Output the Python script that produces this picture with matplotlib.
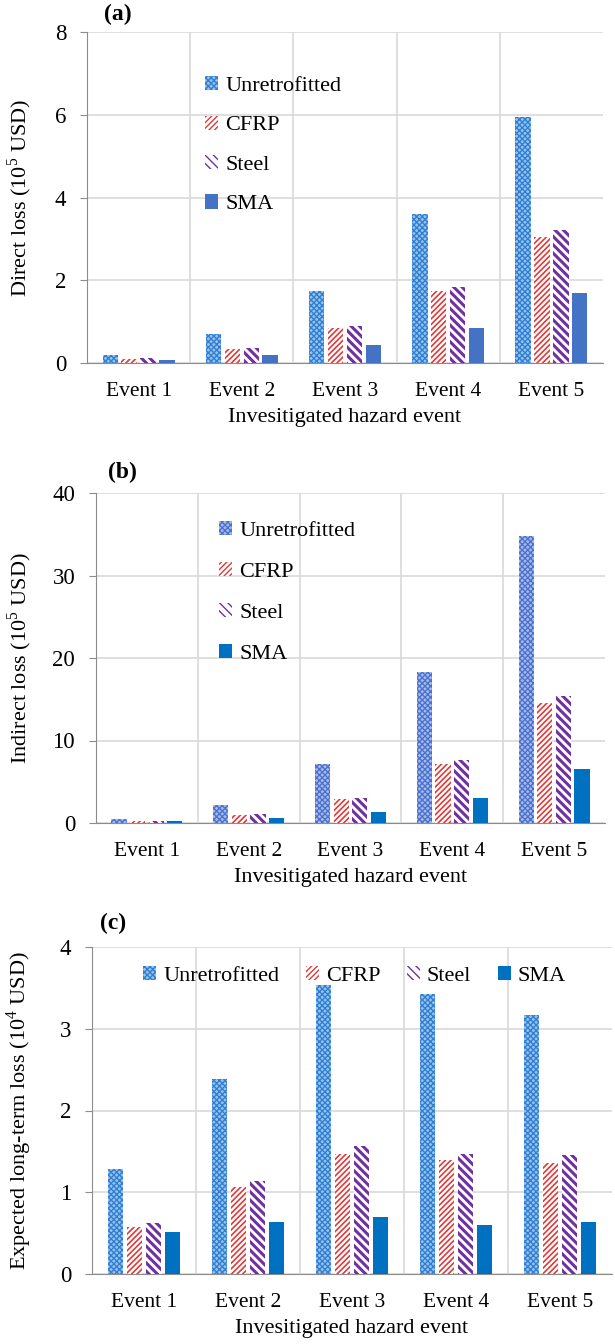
import matplotlib
matplotlib.use('Agg')
import matplotlib.pyplot as plt
import matplotlib.transforms as mtransforms
import numpy as np

plt.rcParams['font.family'] = ['Liberation Serif', 'DejaVu Serif']
plt.rcParams['mathtext.fontset'] = 'custom'
plt.rcParams['mathtext.rm'] = 'Liberation Serif'
plt.rcParams['font.size'] = 15.5

# data
events = ['Event 1', 'Event 2', 'Event 3', 'Event 4', 'Event 5']
schemes = ['Unretrofitted', 'CFRP', 'Steel', 'SMA']

direct_unretro = [0.2, 0.7, 1.75, 3.6, 5.95]
direct_cfrp = [0.1, 0.35, 0.85, 1.75, 3.05]
direct_steel = [0.12, 0.37, 0.9, 1.83, 3.22]
direct_sma = [0.08, 0.2, 0.43, 0.85, 1.68]

indirect_unretro = [0.5, 2.2, 7.1, 18.3, 34.8]
indirect_cfrp = [0.25, 1.0, 2.9, 7.1, 14.5]
indirect_steel = [0.28, 1.05, 3.0, 7.6, 15.4]
indirect_sma = [0.2, 0.6, 1.35, 3.0, 6.55]

longterm_unretro = [1.28, 2.38, 3.54, 3.43, 3.17]
longterm_cfrp = [0.57, 1.06, 1.47, 1.39, 1.36]
longterm_steel = [0.62, 1.14, 1.57, 1.47, 1.45]
longterm_sma = [0.51, 0.63, 0.70, 0.60, 0.63]

W, H = 615, 1344
fig = plt.figure(figsize=(W / 100, H / 100), dpi=100)


def px_axes(left, right, top, bottom):
    return fig.add_axes([left / W, 1 - bottom / H, (right - left) / W, (bottom - top) / H])


def px_anchor(xp, yp):
    return (xp / W, 1 - yp / H)


def draw_panel(ax, series, styles, ymax, ystep, ylabel):
    x = np.arange(len(events))
    width = 0.15
    pitch = 0.183
    for k, (vals, st) in enumerate(zip(series, styles)):
        plt.rcParams['hatch.linewidth'] = st.get('hlw', 1.0)
        ax.bar(x + (k - 1.5) * pitch, vals, width, facecolor=st['fc'],
               edgecolor=st['ec'], linewidth=0, hatch=st.get('hatch'),
               label=schemes[k], zorder=3)
    ax.set_xlim(-0.5, 4.5)
    ax.set_ylim(0, ymax)
    ax.set_yticks(np.arange(0, ymax + ystep / 2, ystep))
    ax.set_xticks(x)
    ax.set_xticklabels(events)
    ax.set_xticks(np.arange(0.5, 4.5, 1.0), minor=True)
    ax.grid(axis='y', which='major', color='#d9d9d9', lw=1.2, zorder=0)
    ax.grid(axis='x', which='minor', color='#d9d9d9', lw=1.2, zorder=0)
    ax.tick_params(axis='x', which='both', length=0, pad=14)
    ax.tick_params(axis='y', length=5, color='#8c8c8c', pad=10, labelsize=16.5)
    for s in ['top', 'right']:
        ax.spines[s].set_visible(False)
    for s in ['left', 'bottom']:
        ax.spines[s].set_color('#8c8c8c')
    ax.set_xlabel('Invesitigated hazard event', fontsize=16, labelpad=5)
    ax.set_ylabel(ylabel, fontsize=16)
    # y label at a fixed pixel column of the figure
    ax.yaxis.set_label_coords(
        34 / W, 0.5,
        transform=mtransforms.blended_transform_factory(fig.transFigure, ax.transAxes))
    ax.set_axisbelow(True)
    return ax


style_a = [
    dict(fc='#9cc3ea', ec='#2f80d4', hatch='xxxxxx', hlw=1.0),
    dict(fc='white', ec='#e03a3a', hatch='//////', hlw=1.2),
    dict(fc='white', ec='#7030a0', hatch='\\\\\\\\', hlw=2.2),
    dict(fc='#4472c4', ec='#4472c4', hatch=None),
]
style_b = [
    dict(fc='#aabbea', ec='#4a73d0', hatch='xxxxxx', hlw=1.0),
    dict(fc='white', ec='#e03a3a', hatch='//////', hlw=1.2),
    dict(fc='white', ec='#7030a0', hatch='\\\\\\\\', hlw=2.2),
    dict(fc='#0070c0', ec='#0070c0', hatch=None),
]
style_c = [
    dict(fc='#9cc3ea', ec='#2f80d4', hatch='xxxxxx', hlw=1.0),
    dict(fc='white', ec='#e03a3a', hatch='//////', hlw=1.2),
    dict(fc='white', ec='#7030a0', hatch='\\\\\\\\', hlw=2.2),
    dict(fc='#0070c0', ec='#0070c0', hatch=None),
]

# (a) direct loss
ax1 = px_axes(87, 603, 32, 363)
draw_panel(ax1, [direct_unretro, direct_cfrp, direct_steel, direct_sma], style_a,
           8, 2, 'Direct loss (10$^{5}$ USD)')
ax1.legend(loc='upper left', bbox_to_anchor=px_anchor(194, 65), bbox_transform=fig.transFigure,
           frameon=False, borderpad=0, labelspacing=0.88, handlelength=0.6,
           handleheight=0.6, handletextpad=0.3, fontsize=16)
fig.text(118 / W, 1 - 14 / H, '(a)', fontsize=17, fontweight='bold', ha='center', va='center')

# (b) indirect loss
ax2 = px_axes(96, 605, 493, 823)
draw_panel(ax2, [indirect_unretro, indirect_cfrp, indirect_steel, indirect_sma], style_b,
           40, 10, 'Indirect loss (10$^{5}$ USD)')
ax2.legend(loc='upper left', bbox_to_anchor=px_anchor(208, 510), bbox_transform=fig.transFigure,
           frameon=False, borderpad=0, labelspacing=0.95, handlelength=0.6,
           handleheight=0.6, handletextpad=0.3, fontsize=16)
fig.text(122 / W, 1 - 472 / H, '(b)', fontsize=17, fontweight='bold', ha='center', va='center')

# (c) expected long-term loss
ax3 = px_axes(92, 612, 947, 1274)
draw_panel(ax3, [longterm_unretro, longterm_cfrp, longterm_steel, longterm_sma], style_c,
           4, 1, 'Expected long-term loss (10$^{4}$ USD)')
ax3.legend(loc='upper left', bbox_to_anchor=px_anchor(132, 955), bbox_transform=fig.transFigure,
           frameon=False, borderpad=0, ncols=4, columnspacing=1.2, handlelength=0.6,
           handleheight=0.6, handletextpad=0.3, fontsize=16)
fig.text(113 / W, 1 - 923 / H, '(c)', fontsize=17, fontweight='bold', ha='center', va='center')

fig.savefig('out.png', dpi=100)
